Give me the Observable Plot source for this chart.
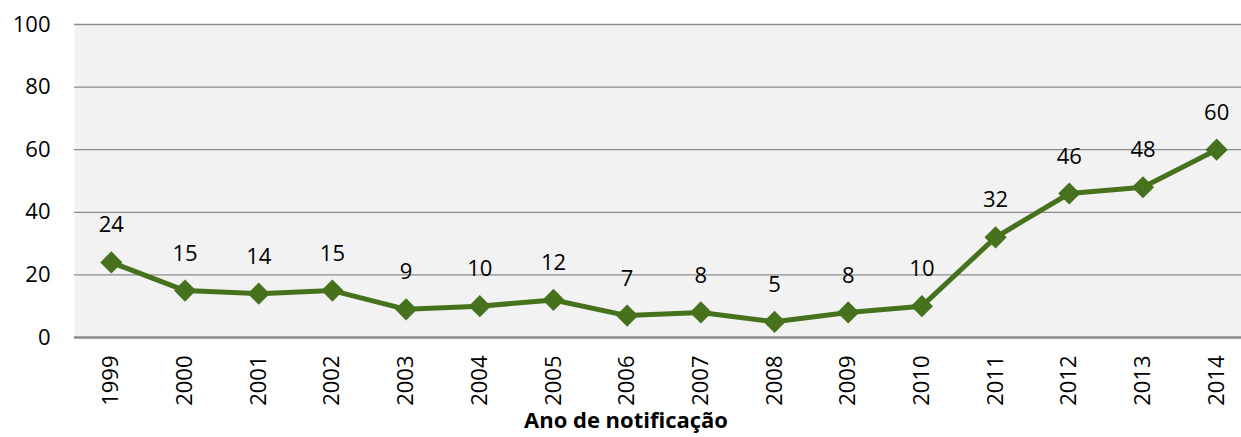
<!DOCTYPE html>
<html>
<head>
<meta charset="utf-8">
<script src="https://cdn.jsdelivr.net/npm/d3@7"></script>
<script src="https://cdn.jsdelivr.net/npm/@observablehq/plot@0.6"></script>
<style>
  html, body { margin: 0; padding: 0; background: #fff; }
  #chart svg { display: block; }
</style>
</head>
<body>
<div id="chart"></div>
<script>
const years = ["1999","2000","2001","2002","2003","2004","2005","2006","2007","2008","2009","2010","2011","2012","2013","2014"];
const values = [24, 15, 14, 15, 9, 10, 12, 7, 8, 5, 8, 10, 32, 46, 48, 60];
const yTicks = [0, 20, 40, 60, 80, 100];
const xTitle = "Ano de notificação";

const data = years.map((y, i) => ({year: y, value: values[i]}));
const green = "#46721e";

const chart = Plot.plot({
  width: 1241,
  height: 437,
  marginLeft: 74,
  marginRight: -12,
  marginTop: 24,
  marginBottom: 100,
  style: {fontFamily: "'Open Sans', sans-serif", fontSize: "22px", color: "#000", background: "#fff"},
  x: {type: "point", domain: years, padding: 0.5, round: false},
  y: {domain: [0, 100]},
  marks: [
    Plot.frame({fill: "#f2f2f2", stroke: null}),
    Plot.gridY(yTicks.filter(d => d > 0), {stroke: "#8c8c8c", strokeOpacity: 1, strokeWidth: 1.3}),
    Plot.ruleX([0], {frameAnchor: "left", stroke: "#8c8c8c", strokeWidth: 1.3}),
    Plot.ruleY([0], {stroke: "#8a8a8a", strokeWidth: 2.5}),
    Plot.axisY({ticks: yTicks, tickSize: 0, tickPadding: 24, label: null, fontSize: 22}),
    Plot.axisX({tickSize: 0, tickRotate: -90, tickPadding: 18, fontSize: 22, label: null}),
    Plot.text([xTitle], {frameAnchor: "bottom", text: d => d, dx: -38, dy: 90, fontSize: 22, fontWeight: "bold", fill: "#000"}),
    Plot.line(data, {x: "year", y: "value", stroke: green, strokeWidth: 5}),
    Plot.dot(data, {x: "year", y: "value", symbol: "diamond2", r: 10, fill: green, stroke: null}),
    Plot.text(data, {x: "year", y: "value", text: d => String(d.value), dy: -37, fill: "#000", fontSize: 22})
  ]
});
document.getElementById("chart").appendChild(chart);
</script>
</body>
</html>
